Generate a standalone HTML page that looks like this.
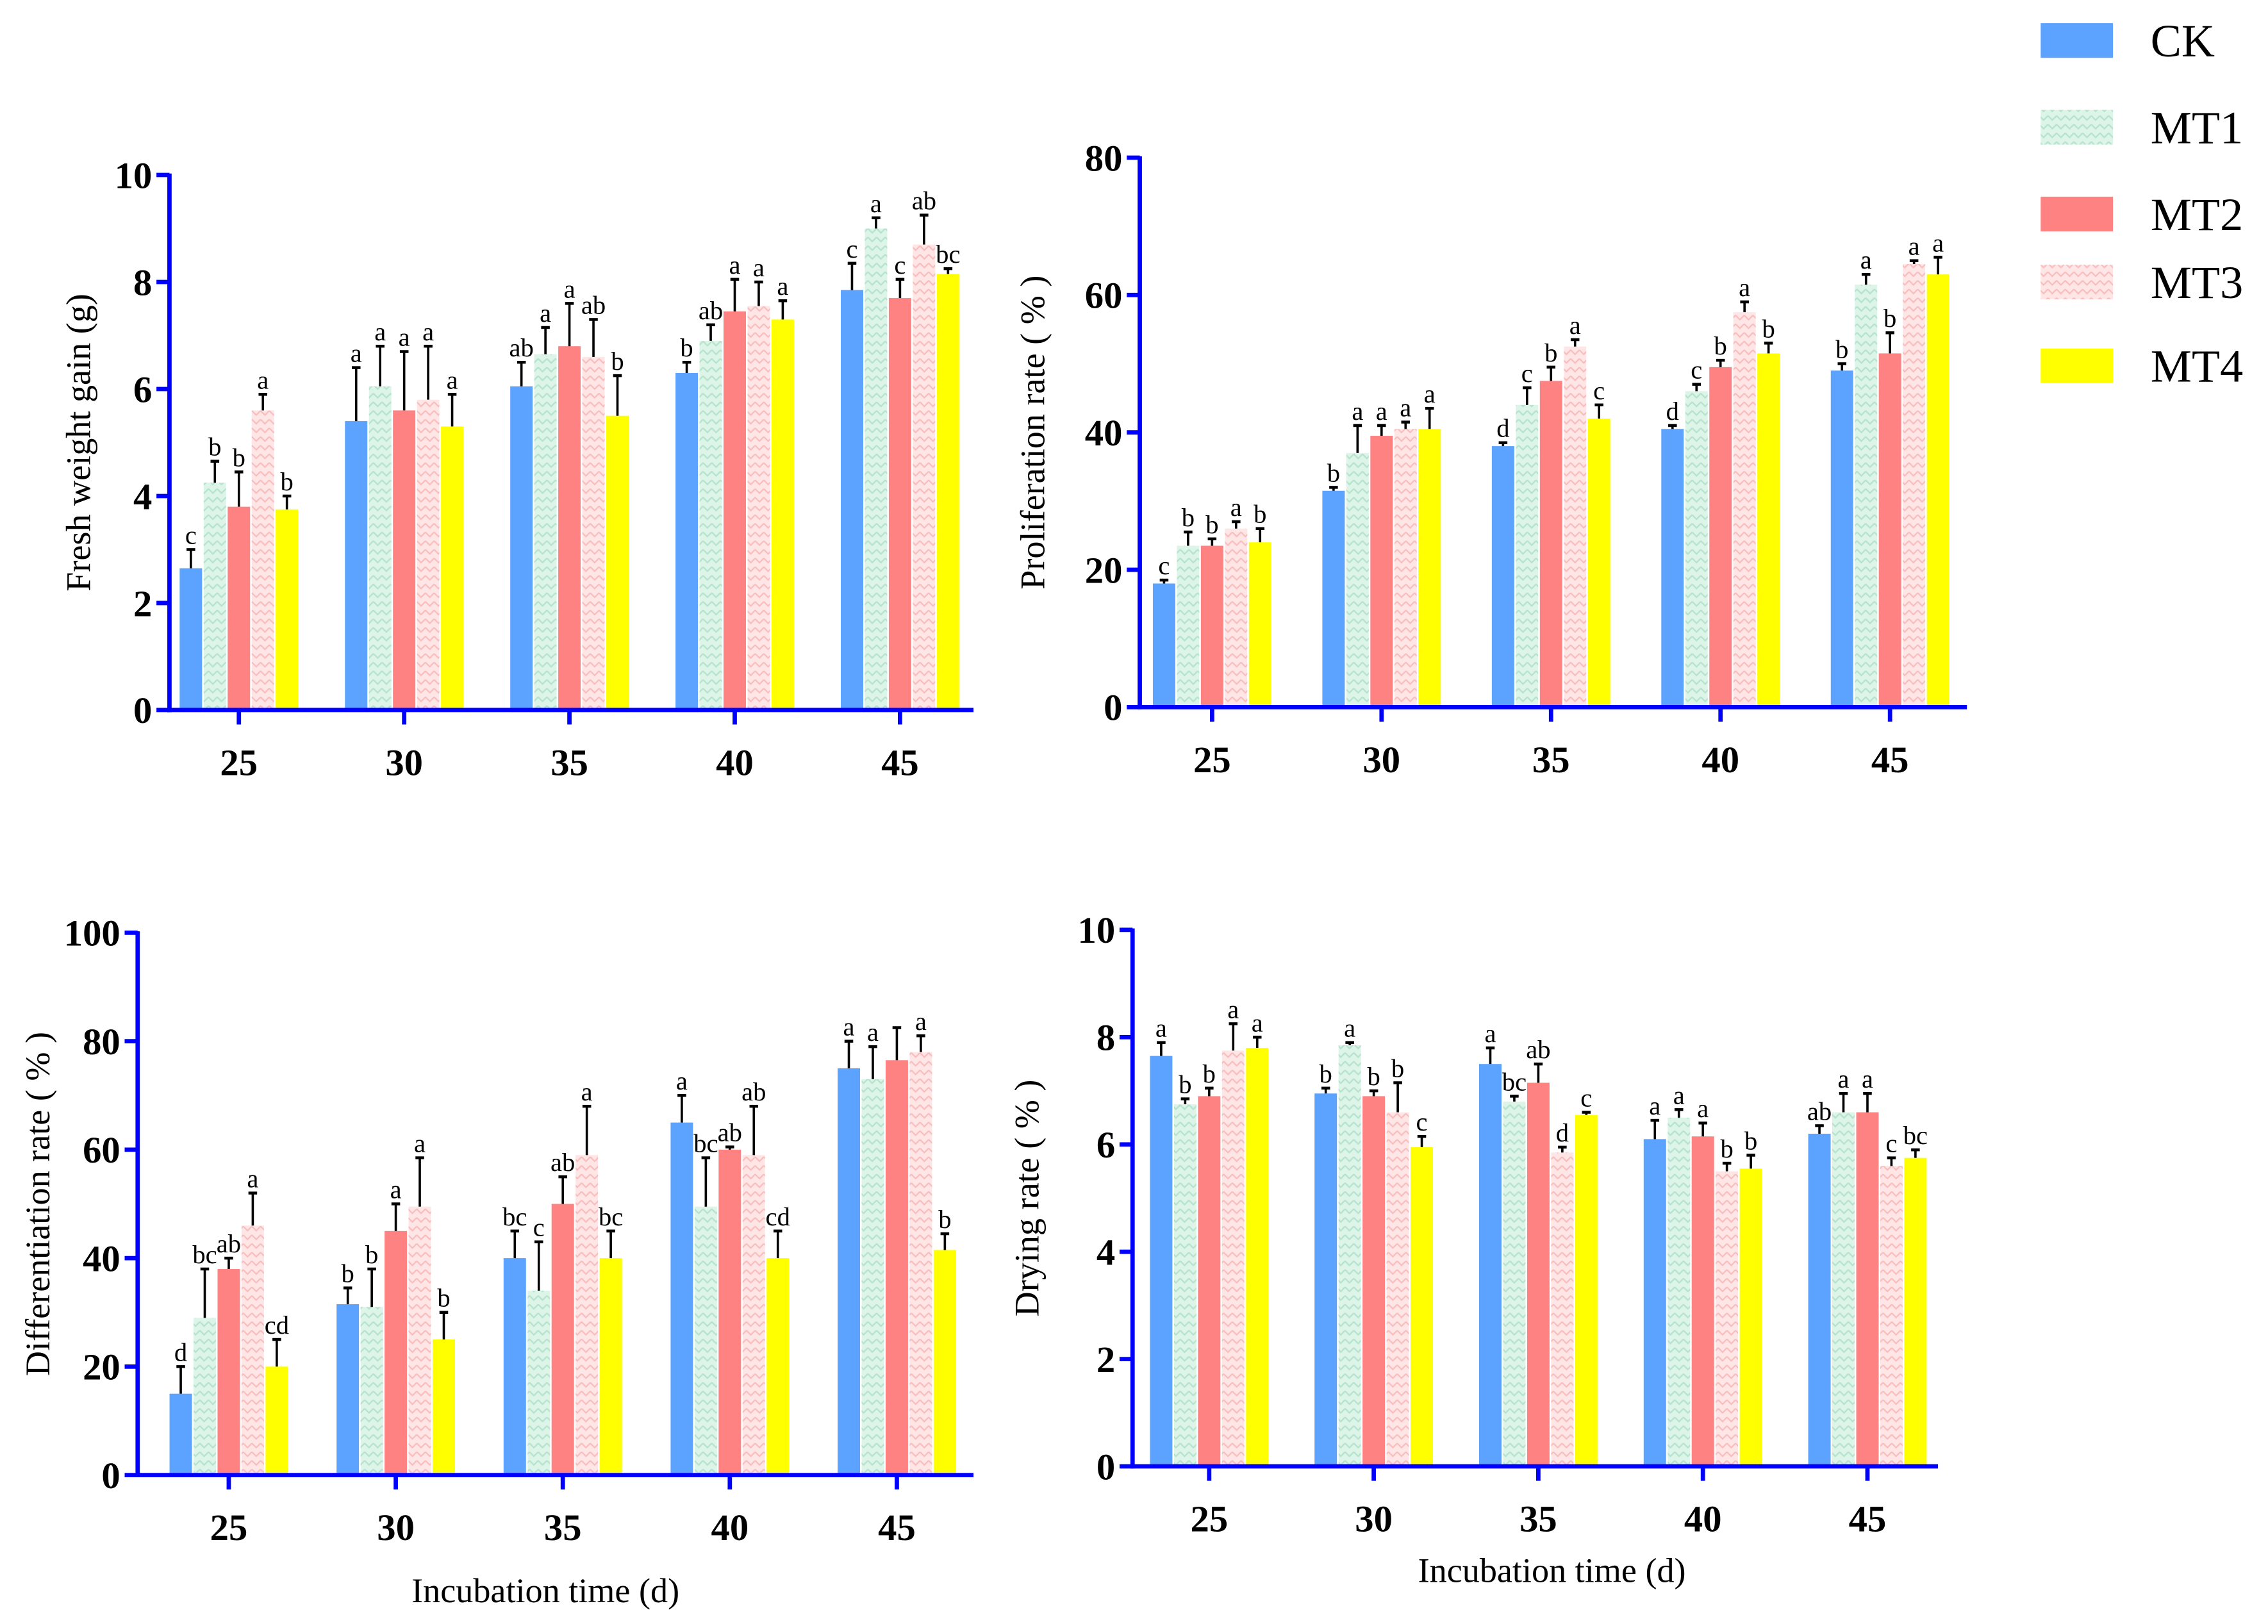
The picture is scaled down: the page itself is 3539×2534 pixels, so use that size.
<!DOCTYPE html>
<html><head><meta charset="utf-8"><style>
html,body{margin:0;padding:0;background:#fff;}
svg{display:block;font-family:"Liberation Serif",serif;}
</style></head><body>
<svg id="fig" width="3539" height="2534" viewBox="0 0 1568 1123">
<defs>
<pattern id="p1" width="6" height="6" patternUnits="userSpaceOnUse"><rect width="6" height="6" fill="#DDF4E8"/><path d="M0 2 L3 5 L6 2" stroke="#B5E3CC" stroke-width="1" fill="none"/></pattern>
<pattern id="p3" width="6" height="6" patternUnits="userSpaceOnUse"><rect width="6" height="6" fill="#FFE6E6"/><path d="M0 2 L3 5 L6 2" stroke="#F9BDBD" stroke-width="1" fill="none"/></pattern>
</defs>
<g id="legend"></g>
</svg>
<script>
const series = ['CK','MT1','MT2','MT3','MT4'];
const categories = ['25','30','35','40','45'];
const fills = ['#5BA3FF','url(#p1)','#FF8282','url(#p3)','#FFFF00'];
const legendFills = ['#5BA3FF','url(#p1)','#FF8282','url(#p3)','#FFFF00'];

const aMeans = [[2.65,4.25,3.8,5.6,3.75],[5.4,6.05,5.6,5.8,5.3],[6.05,6.65,6.8,6.6,5.5],[6.3,6.9,7.45,7.55,7.3],[7.85,9.0,7.7,8.7,8.15]];
const aErr = [[0.35,0.4,0.65,0.3,0.25],[1.0,0.75,1.1,1.0,0.6],[0.45,0.5,0.8,0.7,0.75],[0.2,0.3,0.6,0.45,0.35],[0.5,0.2,0.35,0.55,0.1]];
const aLetters = [['c','b','b','a','b'],['a','a','a','a','a'],['ab','a','a','ab','b'],['b','ab','a','a','a'],['c','a','c','ab','bc']];
const aTicks = ['0','2','4','6','8','10'];

const bMeans = [[18,23.5,23.5,26,24],[31.5,37,39.5,40.5,40.5],[38,44,47.5,52.5,42],[40.5,46,49.5,57.5,51.5],[49,61.5,51.5,64.5,63]];
const bErr = [[0.5,2,1,1,2],[0.5,4,1.5,1,3],[0.5,2.5,2,1,2],[0.5,1,1,1.5,1.5],[1,1.5,3,0.5,2.5]];
const bLetters = [['c','b','b','a','b'],['b','a','a','a','a'],['d','c','b','a','c'],['d','c','b','a','b'],['b','a','b','a','a']];
const bTicks = ['0','20','40','60','80'];

const cMeans = [[15,29,38,46,20],[31.5,31,45,49.5,25],[40,34,50,59,40],[65,49.5,60,59,40],[75,73,76.5,78,41.5]];
const cErr = [[5,9,2,6,5],[3,7,5,9,5],[5,9,5,9,5],[5,9,0.5,9,5],[5,6,6,3,3]];
const cLetters = [['d','bc','ab','a','cd'],['b','b','a','a','b'],['bc','c','ab','a','bc'],['a','bc','ab','ab','cd'],['a','a','','a','b']];
const cTicks = ['0','20','40','60','80','100'];

const dMeans = [[7.65,6.75,6.9,7.75,7.8],[6.95,7.85,6.9,6.6,5.95],[7.5,6.8,7.15,5.85,6.55],[6.1,6.5,6.15,5.5,5.55],[6.2,6.6,6.6,5.6,5.75]];
const dErr = [[0.25,0.1,0.15,0.5,0.2],[0.1,0.05,0.1,0.55,0.2],[0.3,0.1,0.35,0.1,0.05],[0.35,0.15,0.25,0.15,0.25],[0.15,0.35,0.35,0.15,0.15]];
const dLetters = [['a','b','b','a','a'],['b','a','b','b','c'],['a','bc','ab','d','c'],['a','a','a','b','b'],['ab','a','a','c','bc']];
const dTicks = ['0','2','4','6','8','10'];

const NS='http://www.w3.org/2000/svg';
const svg=document.getElementById('fig');
function mk(tag,attrs,parent){const e=document.createElementNS(NS,tag);for(const k in attrs)e.setAttribute(k,attrs[k]);(parent||svg).appendChild(e);return e;}

function panel(cfg){
  const g=mk('g',{});
  
  
  const maxV=Number(cfg.ticks[cfg.ticks.length-1]);
  const y=v=>cfg.y0-(v/maxV)*(cfg.y0-cfg.yTop);
  const xc=i=>cfg.c0+i*cfg.step;
  const bw=15.5, bs=16.6;
  cfg.means.forEach((grp,i)=>{
    grp.forEach((v,j)=>{
      const bx=xc(i)+(j-2)*bs-bw/2;
      const r=mk('rect',{x:bx,y:y(v),width:bw,height:cfg.y0-y(v),fill:fills[j]},g);
      
      
      const e=cfg.err[i][j];
      const cx=bx+bw/2;
      const ln=mk('line',{x1:cx,x2:cx,y1:y(v),y2:y(v+e),stroke:'#000','stroke-width':1.6},g);
      
      
      mk('line',{x1:cx-3,x2:cx+3,y1:y(v+e),y2:y(v+e),stroke:'#000','stroke-width':2},g);
      const t=mk('text',{x:cx,y:y(v+e)-4,'text-anchor':'middle','font-size':18,fill:'#000'},g);
      t.textContent=cfg.letters[i][j];
      
      
    });
  });
  const ya=mk('line',{x1:cfg.x0,x2:cfg.x0,y1:cfg.yTop-1,y2:cfg.y0+1.5,stroke:'#0000FF','stroke-width':3},g);
  
  
  const xa=mk('line',{x1:cfg.x0-1.5,x2:cfg.xEnd,y1:cfg.y0,y2:cfg.y0,stroke:'#0000FF','stroke-width':3},g);
  
  
  cfg.ticks.forEach(tk=>{
    const v=Number(tk);
    mk('line',{x1:cfg.x0-9,x2:cfg.x0,y1:y(v),y2:y(v),stroke:'#0000FF','stroke-width':3},g);
    const t=mk('text',{x:cfg.x0-12,y:y(v)+9,'text-anchor':'end','font-size':26,'font-weight':'bold'},g);
    t.textContent=tk;
    
    
  });
  categories.forEach((c,i)=>{
    mk('line',{x1:xc(i),x2:xc(i),y1:cfg.y0,y2:cfg.y0+10,stroke:'#0000FF','stroke-width':3},g);
    const t=mk('text',{x:xc(i),y:cfg.y0+45,'text-anchor':'middle','font-size':26,'font-weight':'bold'},g);
    t.textContent=c;
    
    
  });
  const yl=mk('text',{x:0,y:0,'text-anchor':'middle','font-size':24,transform:`translate(${cfg.ylx},${(cfg.y0+cfg.yTop)/2}) rotate(-90)`},g);
  yl.textContent=cfg.ylabel;
  
  
  if(cfg.xlabel){
    const xl=mk('text',{x:cfg.xlx,y:cfg.xly,'text-anchor':'middle','font-size':24},g);
    xl.textContent=cfg.xlabel;
    
    
  }
}

panel({name:'fresh-weight-chart',means:aMeans,err:aErr,letters:aLetters,ticks:aTicks,x0:117,xEnd:673,yTop:121,y0:491,c0:165,step:114.3,ylabel:'Fresh weight gain (g)',ylx:62});
panel({name:'proliferation-chart',means:bMeans,err:bErr,letters:bLetters,ticks:bTicks,x0:788,xEnd:1360,yTop:109,y0:489,c0:838,step:117.2,ylabel:'Proliferation rate ( % )',ylx:722});
panel({name:'differentiation-chart',means:cMeans,err:cErr,letters:cLetters,ticks:cTicks,x0:95,xEnd:673,yTop:645,y0:1020,c0:158,step:115.5,ylabel:'Differentiation rate ( % )',ylx:34,xlabel:'Incubation time (d)',xlx:377,xly:1108});
panel({name:'drying-rate-chart',means:dMeans,err:dErr,letters:dLetters,ticks:dTicks,x0:783,xEnd:1340,yTop:643,y0:1014,c0:836,step:113.8,ylabel:'Drying rate ( % )',ylx:718,xlabel:'Incubation time (d)',xlx:1073,xly:1094});

const lg=document.getElementById('legend');
const legY=[28,88,148,195,253];
series.forEach((s,j)=>{
  const r=mk('rect',{x:1411,y:legY[j]-12,width:50,height:24,fill:legendFills[j]},lg);
  
  
  const t=mk('text',{x:1487,y:legY[j]+11,'font-size':32},lg);
  t.textContent=s;
  
  
});
</script>
</body></html>
